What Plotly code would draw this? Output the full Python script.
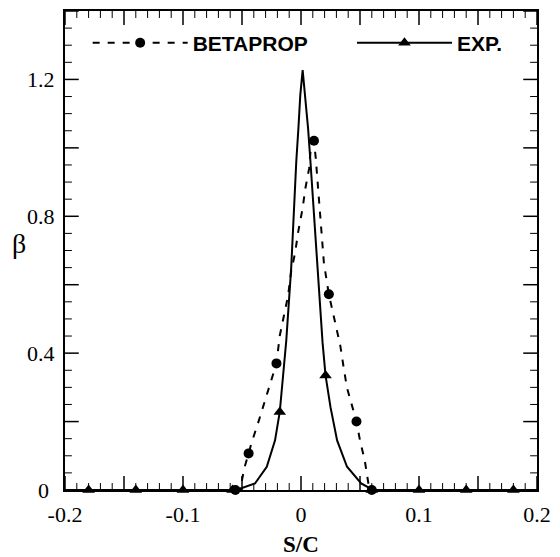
import plotly.graph_objects as go

# EXP. (solid line, triangles)
exp_x = [-0.2, -0.058, -0.05, -0.039, -0.029, -0.022, -0.018, -0.0153, -0.0125, -0.0083,
         -0.006, -0.004, -0.0022, -0.0006, 0.0014, 0.0036, 0.006, 0.008, 0.0103, 0.0136,
         0.0183, 0.0208, 0.025, 0.0306, 0.039, 0.051, 0.061, 0.2]
exp_y = [0, 0, 0.006, 0.019, 0.068, 0.145, 0.228, 0.34, 0.436, 0.65,
         0.844, 0.96, 1.057, 1.154, 1.227, 1.154, 1.057, 0.96, 0.844, 0.65,
         0.43, 0.335, 0.242, 0.145, 0.068, 0.019, 0, 0]
exp_mx = [-0.18, -0.14, -0.1, -0.058, -0.018, 0.0208, 0.06, 0.1, 0.14, 0.18]
exp_my = [0, 0, 0, 0, 0.228, 0.335, 0, 0, 0, 0]

# BETAPROP (dashed line, circles)
bp_x = [-0.0556, -0.0506, -0.05, -0.0477, -0.0444, -0.0417, -0.036, -0.0306, -0.0208,
        -0.018, -0.0144, -0.011, -0.0083, -0.005, -0.0023, 0.0014, 0.0036, 0.0069, 0.0083,
        0.011, 0.0125, 0.0139, 0.0153, 0.0167, 0.0194, 0.0236, 0.0292, 0.0333, 0.0361,
        0.0389, 0.047, 0.05, 0.054, 0.057, 0.058, 0.06]
bp_y = [0, 0, 0.029, 0.068, 0.107, 0.14, 0.2, 0.262, 0.37,
        0.451, 0.509, 0.567, 0.64, 0.693, 0.756, 0.824, 0.88, 0.94, 0.999,
        1.021, 0.97, 0.911, 0.853, 0.785, 0.664, 0.572, 0.48, 0.422, 0.359,
        0.3, 0.2, 0.145, 0.087, 0.029, 0, 0]
bp_mx = [-0.0556, -0.0444, -0.0208, 0.011, 0.0236, 0.047, 0.06]
bp_my = [0, 0.107, 0.37, 1.021, 0.572, 0.2, 0]

x_range = [-0.2, 0.2]
y_range = [0, 1.4]
x_tickvals = [-0.2, -0.15, -0.1, -0.05, 0, 0.05, 0.1, 0.15, 0.2]
x_ticktext = ["-0.2", "", "-0.1", "", "0", "", "0.1", "", "0.2"]
y_tickvals = [0, 0.2, 0.4, 0.6, 0.8, 1.0, 1.2, 1.4]
y_ticktext = ["0\u2008", "", "0.4", "", "0.8", "", "1.2", ""]
x_minor_step = 0.01
y_minor_step = 0.05

W, H = 560, 557
M = dict(l=65, r=15, t=9, b=67)
BLACK = "black"
DASH = "7px,8px"
MAJOR_LEN, MINOR_LEN = 14, 7  # px

# pixel -> data conversion for the inside tick marks
px_x = (x_range[1] - x_range[0]) / (W - M["l"] - M["r"])
px_y = (y_range[1] - y_range[0]) / (H - M["t"] - M["b"])


def steps(lo, hi, step):
    n = int(round((hi - lo) / step))
    return [round(lo + i * step, 6) for i in range(n + 1)]


x_minor_vals = [v for v in steps(*x_range, x_minor_step) if all(abs(v - t) > 1e-9 for t in x_tickvals)]
y_minor_vals = [v for v in steps(*y_range, y_minor_step) if all(abs(v - t) > 1e-9 for t in y_tickvals)]


def tick_segments(xvals, yvals, xlen, ylen):
    xs, ys = [], []
    for v in xvals:  # bottom and top
        xs += [v, v, None, v, v, None]
        ys += [y_range[0], y_range[0] + ylen, None, y_range[1], y_range[1] - ylen, None]
    for v in yvals:  # left and right
        xs += [x_range[0], x_range[0] + xlen, None, x_range[1], x_range[1] - xlen, None]
        ys += [v, v, None, v, v, None]
    return xs, ys


fig = go.Figure()
for vals, length, width in (((x_tickvals, y_tickvals), MAJOR_LEN, 1.5),
                            ((x_minor_vals, y_minor_vals), MINOR_LEN, 1)):
    tx, ty = tick_segments(vals[0], vals[1], length * px_x, length * px_y)
    fig.add_trace(go.Scatter(x=tx, y=ty, mode="lines", showlegend=False, hoverinfo="skip",
                             line=dict(color=BLACK, width=width)))

fig.add_trace(go.Scatter(x=bp_x, y=bp_y, mode="lines", showlegend=False,
                         line=dict(color=BLACK, width=2, dash=DASH)))
fig.add_trace(go.Scatter(x=exp_x, y=exp_y, mode="lines", showlegend=False,
                         line=dict(color=BLACK, width=2)))
fig.add_trace(go.Scatter(x=bp_mx, y=bp_my, mode="markers", showlegend=False,
                         marker=dict(symbol="circle", size=10, color=BLACK), cliponaxis=False))
fig.add_trace(go.Scatter(x=exp_mx, y=exp_my, mode="markers", showlegend=False,
                         marker=dict(symbol="triangle-up", size=11, color=BLACK), cliponaxis=False))
# legend entries
fig.add_trace(go.Scatter(x=[None], y=[None], mode="lines+markers", name="<b>BETAPROP</b>",
                         line=dict(color=BLACK, width=2, dash=DASH),
                         marker=dict(symbol="circle", size=10, color=BLACK), legend="legend"))
fig.add_trace(go.Scatter(x=[None], y=[None], mode="lines+markers", name="<b>EXP.</b>",
                         line=dict(color=BLACK, width=2),
                         marker=dict(symbol="triangle-up", size=11, color=BLACK), legend="legend2"))

tickfont = dict(family="Liberation Serif", size=22, color=BLACK)
axis_common = dict(showgrid=False, zeroline=False, ticks="", tickmode="array",
                   showline=True, linewidth=2, linecolor=BLACK, mirror=True, tickfont=tickfont)

fig.update_layout(
    width=W, height=H,
    margin=M,
    paper_bgcolor="white", plot_bgcolor="white",
    xaxis=dict(range=x_range, tickvals=x_tickvals, ticktext=x_ticktext, ticklabelstandoff=4, **axis_common),
    yaxis=dict(range=y_range, tickvals=y_tickvals, ticktext=y_ticktext, ticklabelstandoff=4, **axis_common),
    legend=dict(x=0.048, y=0.933, xanchor="left", yanchor="middle", orientation="h",
                itemwidth=95, bgcolor="rgba(0,0,0,0)", borderwidth=0,
                font=dict(family="Liberation Sans", size=21, color=BLACK)),
    legend2=dict(x=0.608, y=0.933, xanchor="left", yanchor="middle", orientation="h",
                 itemwidth=95, bgcolor="rgba(0,0,0,0)", borderwidth=0,
                 font=dict(family="Liberation Sans", size=21, color=BLACK)),
    annotations=[
        dict(text="β", xref="paper", yref="paper", x=-0.098, y=0.514, showarrow=False,
             xanchor="center", yanchor="middle",
             font=dict(family="Liberation Serif", size=28, color=BLACK)),
        dict(text="<b>S/C</b>", xref="paper", yref="paper", x=0.5, y=-0.114, showarrow=False,
             xanchor="center", yanchor="middle",
             font=dict(family="Liberation Serif", size=23, color=BLACK)),
    ],
)

fig.write_html("out.html")
